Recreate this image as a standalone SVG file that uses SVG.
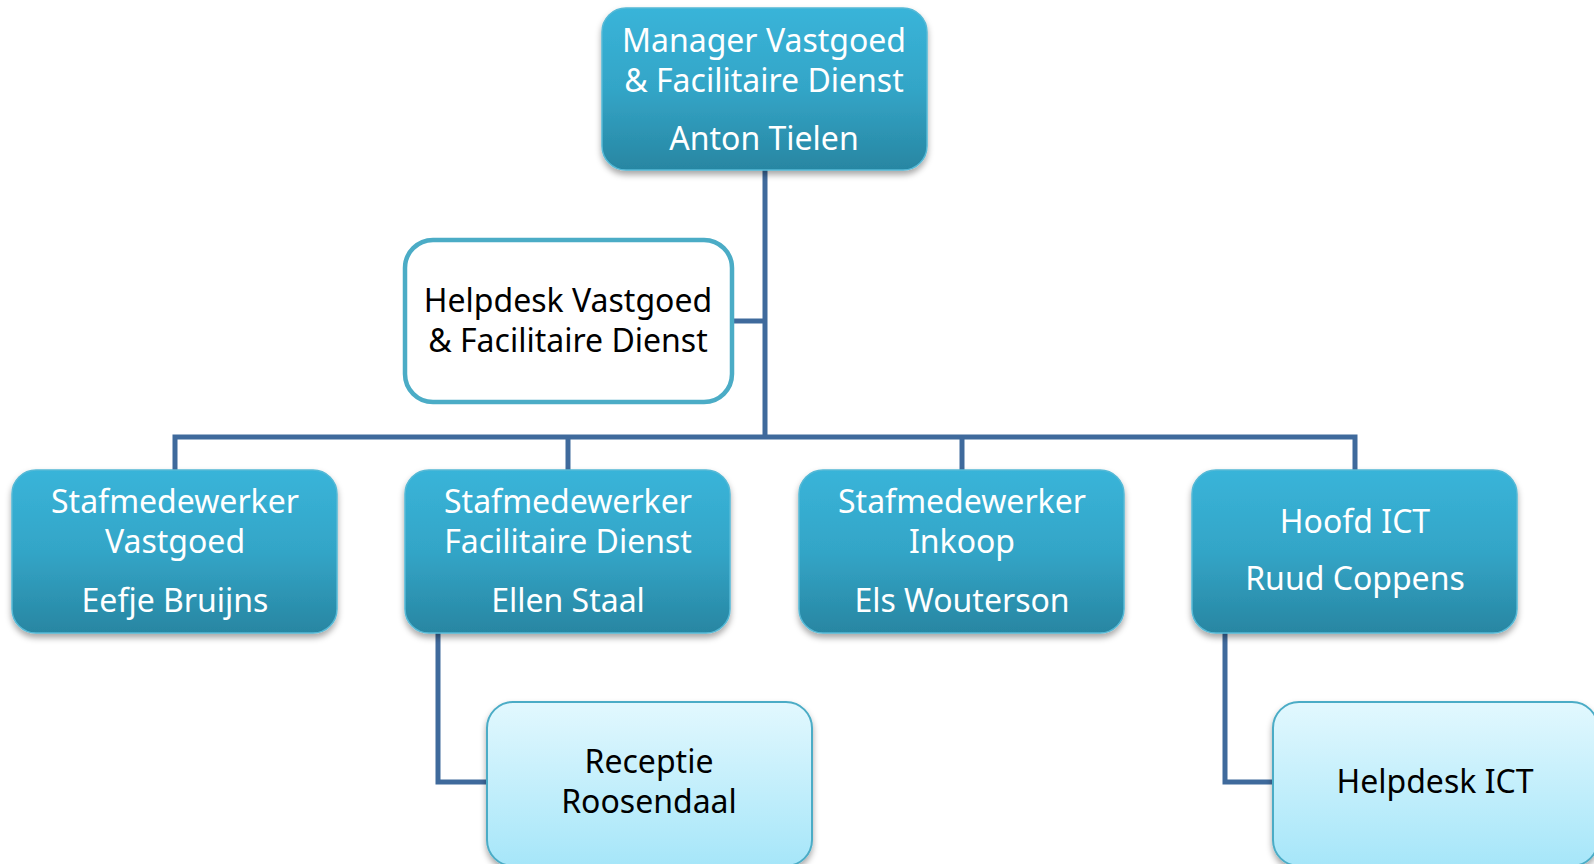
<svg xmlns="http://www.w3.org/2000/svg" width="1594" height="864" viewBox="0 0 1594 864">
<defs>
<linearGradient id="gDark" x1="0" y1="0" x2="0" y2="1">
<stop offset="0" stop-color="#39b4d9"/>
<stop offset="0.5" stop-color="#33a5c7"/>
<stop offset="1" stop-color="#2886a2"/>
</linearGradient>
<linearGradient id="gLight" x1="0" y1="0" x2="0" y2="1">
<stop offset="0" stop-color="#e2f8fe"/>
<stop offset="1" stop-color="#a6e6f9"/>
</linearGradient>
<filter id="sh" x="-10%" y="-10%" width="120%" height="130%">
<feDropShadow dx="0" dy="4" stdDeviation="3" flood-color="#000" flood-opacity="0.35"/>
</filter>
</defs>
<style>
.dark{fill:url(#gDark);stroke:#55b9d6;stroke-width:1.5;filter:url(#sh)}
.light{fill:url(#gLight);stroke:#4bacc6;stroke-width:2;filter:url(#sh)}
.plain{fill:#fff;stroke:#4bacc6;stroke-width:4.5}
.tw{font-family:"Noto Sans","Open Sans",sans-serif;font-size:32px;fill:#fff;text-anchor:middle}
.tb{font-family:"Noto Sans","Open Sans",sans-serif;font-size:32px;fill:#000;text-anchor:middle}
.conn{fill:none;stroke:#3f6a9c;stroke-width:5;stroke-linejoin:miter}
</style>
<rect width="1594" height="864" fill="#fff"/>
<g id="connectors">
<path class="conn" d="M765 170 V437"/>
<path class="conn" d="M733 321 H765"/>
<path class="conn" d="M175 470 V437 H1355 V470"/>
<path class="conn" d="M568 437 V470"/>
<path class="conn" d="M962 437 V470"/>
<path class="conn" d="M438 633 V782 H487"/>
<path class="conn" d="M1225 633 V782 H1273"/>
</g>
<g id="manager">
<rect class="dark" x="602" y="8" width="325" height="162" rx="24"/>
<text class="tw" x="764" y="52">Manager Vastgoed</text>
<text class="tw" x="764" y="92">&amp; Facilitaire Dienst</text>
<text class="tw" x="764" y="150">Anton Tielen</text>
</g>
<g id="helpdesk-vastgoed">
<rect class="plain" x="405" y="240" width="327" height="162" rx="28"/>
<text class="tb" x="568" y="312">Helpdesk Vastgoed</text>
<text class="tb" x="568" y="352">&amp; Facilitaire Dienst</text>
</g>
<g id="staf-vastgoed">
<rect class="dark" x="12" y="470" width="325" height="163" rx="24"/>
<text class="tw" x="175" y="513">Stafmedewerker</text>
<text class="tw" x="175" y="553">Vastgoed</text>
<text class="tw" x="175" y="612">Eefje Bruijns</text>
</g>
<g id="staf-facilitair">
<rect class="dark" x="405" y="470" width="325" height="163" rx="24"/>
<text class="tw" x="568" y="513">Stafmedewerker</text>
<text class="tw" x="568" y="553">Facilitaire Dienst</text>
<text class="tw" x="568" y="612">Ellen Staal</text>
</g>
<g id="staf-inkoop">
<rect class="dark" x="799" y="470" width="325" height="163" rx="24"/>
<text class="tw" x="962" y="513">Stafmedewerker</text>
<text class="tw" x="962" y="553">Inkoop</text>
<text class="tw" x="962" y="612">Els Wouterson</text>
</g>
<g id="hoofd-ict">
<rect class="dark" x="1192" y="470" width="325" height="163" rx="24"/>
<text class="tw" x="1355" y="533">Hoofd ICT</text>
<text class="tw" x="1355" y="590">Ruud Coppens</text>
</g>
<g id="receptie">
<rect class="light" x="487" y="702" width="325" height="164" rx="26"/>
<text class="tb" x="649" y="773">Receptie</text>
<text class="tb" x="649" y="813">Roosendaal</text>
</g>
<g id="helpdesk-ict">
<rect class="light" x="1273" y="702" width="325" height="164" rx="26"/>
<text class="tb" x="1435" y="793">Helpdesk ICT</text>
</g>
</svg>
